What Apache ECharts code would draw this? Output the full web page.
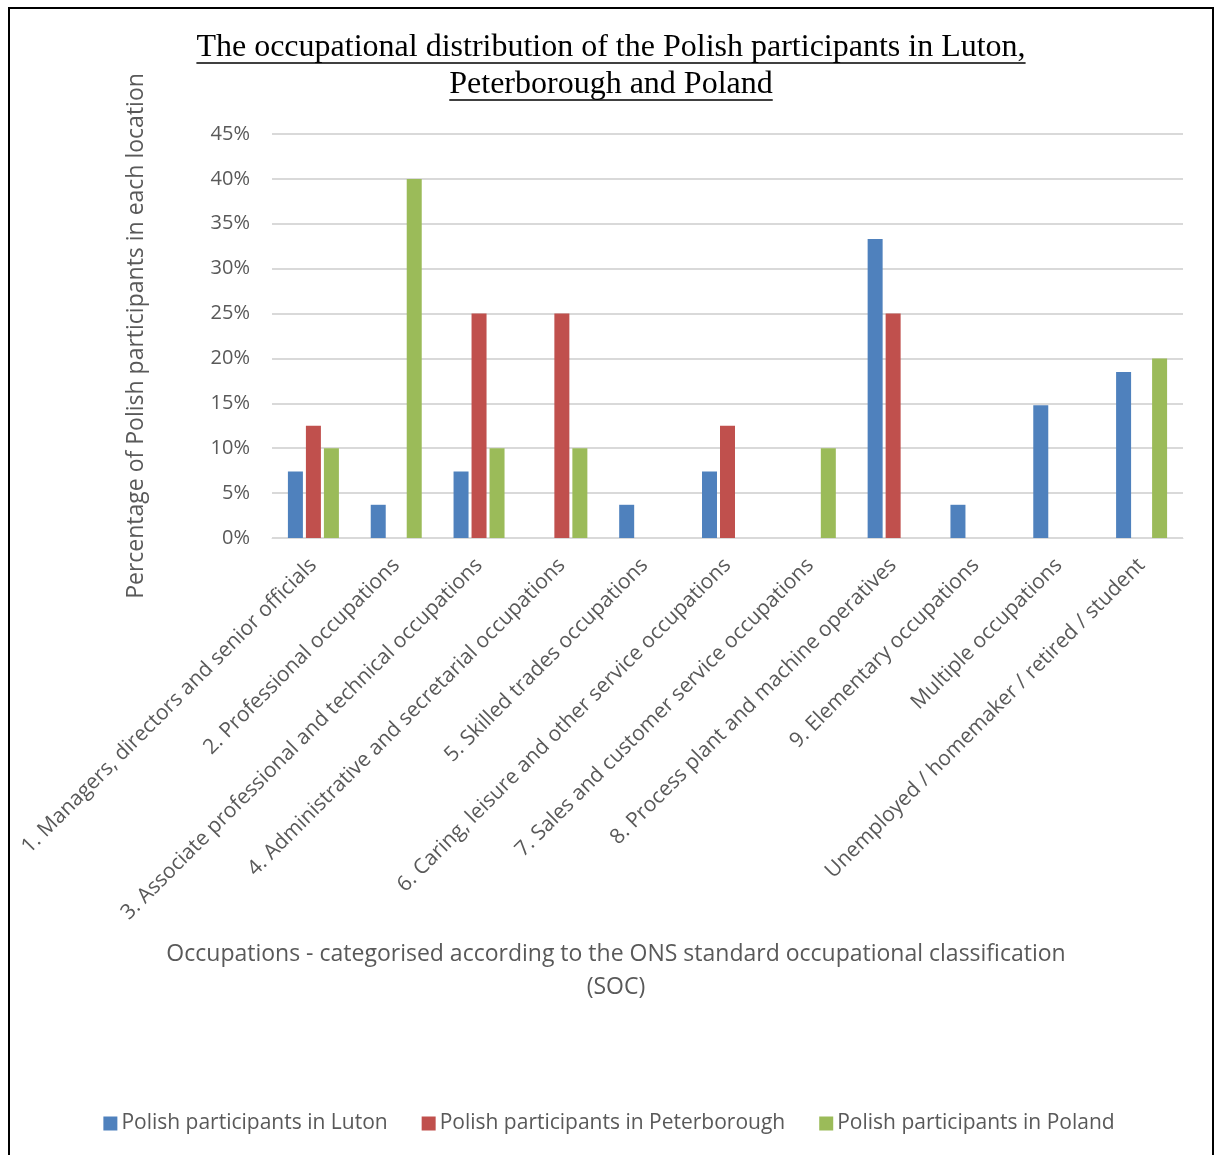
<!DOCTYPE html>
<html>
<head>
<meta charset="utf-8">
<style>
  html, body { margin: 0; padding: 0; background: #ffffff; }
  #chart { width: 1218px; height: 1155px; }
</style>
<script src="https://cdn.jsdelivr.net/npm/echarts@6/dist/echarts.min.js"></script>
</head>
<body>
<div id="chart"></div>
<script>
// Occupational categories (SOC major groups plus extra groups)
const categories = [
  '1. Managers, directors and senior officials',
  '2. Professional occupations',
  '3. Associate professional and technical occupations',
  '4. Administrative and secretarial occupations',
  '5. Skilled trades occupations',
  '6. Caring, leisure and other service occupations',
  '7. Sales and customer service occupations',
  '8. Process plant and machine operatives',
  '9. Elementary occupations',
  'Multiple occupations',
  'Unemployed / homemaker / retired / student'
];

// Share of participants per location, in percent
const lutonValues = [7.4, 3.7, 7.4, 0, 3.7, 7.4, 0, 33.3, 3.7, 14.8, 18.5];
const peterboroughValues = [12.5, 0, 25, 25, 0, 12.5, 0, 25, 0, 0, 0];
const polandValues = [10, 40, 10, 10, 0, 0, 10, 0, 0, 0, 20];

const seriesNames = [
  'Polish participants in Luton',
  'Polish participants in Peterborough',
  'Polish participants in Poland'
];

const titleLines = [
  'The occupational distribution of the Polish participants in Luton,',
  'Peterborough and Poland'
];
const xAxisTitleLines = [
  'Occupations - categorised according to the ONS standard occupational classification',
  '(SOC)'
];
const yAxisTitle = 'Percentage of Polish participants in each location';

const colors = ['#4f81bd', '#c0504d', '#9bbb59'];
const sansFont = '"Open Sans", "Noto Sans", sans-serif';
const serifFont = '"Liberation Serif", "DejaVu Serif", serif';
const grey = '#595959';

const titleFontSize = 32;

// measure text so the title underline spans exactly the drawn words
const measureCtx = document.createElement('canvas').getContext('2d');
function textWidth(str, font) {
  measureCtx.font = font;
  return measureCtx.measureText(str).width;
}

const centerX = 611;
const titleY = [48, 85];
const graphics = [];

// outer frame
graphics.push({
  type: 'rect',
  shape: { x: 9, y: 8, width: 1204, height: 1160 },
  style: { fill: 'none', stroke: '#000000', lineWidth: 2 },
  silent: true
});

titleLines.forEach((line, i) => {
  const font = titleFontSize + 'px ' + serifFont;
  const w = textWidth(line, font);
  graphics.push({
    type: 'text',
    x: centerX, y: titleY[i],
    style: {
      text: line, font: font, fill: '#000000',
      textAlign: 'center', textVerticalAlign: 'middle'
    }
  });
  graphics.push({
    type: 'line',
    shape: { x1: centerX - w / 2, y1: titleY[i] + 15, x2: centerX + w / 2, y2: titleY[i] + 15 },
    style: { stroke: '#000000', lineWidth: 1.3 },
    silent: true
  });
});

// x-axis title (two lines, centred on the chart)
graphics.push({
  type: 'text',
  x: 616, y: 971,
  style: {
    text: xAxisTitleLines.join('\n'),
    font: '23px ' + sansFont,
    fill: grey,
    textAlign: 'center',
    textVerticalAlign: 'middle',
    lineHeight: 33
  }
});

const chart = echarts.init(document.getElementById('chart'), null, { renderer: 'canvas' });

const seriesData = [lutonValues, peterboroughValues, polandValues];

chart.setOption({
  backgroundColor: '#ffffff',
  animation: false,
  color: colors,
  grid: { left: 272, right: 35, top: 134, bottom: 617, containLabel: false },
  legend: {
    bottom: 16,
    left: 'center',
    icon: 'rect',
    itemWidth: 14,
    itemHeight: 14,
    itemGap: 34,
    textStyle: { fontFamily: sansFont, fontSize: 21, color: grey, padding: [0, 0, 0, -1] },
    data: seriesNames
  },
  xAxis: {
    type: 'category',
    data: categories,
    axisLine: { show: true, lineStyle: { color: '#d9d9d9', width: 1 } },
    axisTick: { show: false },
    axisLabel: {
      interval: 0,
      rotate: 45,
      margin: 24,
      fontFamily: sansFont,
      fontSize: 21,
      color: grey
    }
  },
  yAxis: {
    type: 'value',
    min: 0,
    max: 45,
    interval: 5,
    name: yAxisTitle,
    nameLocation: 'middle',
    nameGap: 124,
    nameTextStyle: { fontFamily: sansFont, fontSize: 23, color: grey },
    axisLine: { show: false },
    axisTick: { show: false },
    splitLine: { lineStyle: { color: '#d9d9d9', width: 2 } },
    axisLabel: {
      formatter: '{value}%',
      fontFamily: sansFont,
      fontSize: 20,
      color: grey,
      margin: 22
    }
  },
  series: seriesNames.map((name, i) => ({
    name: name,
    type: 'bar',
    data: seriesData[i],
    barWidth: 15,
    barGap: '20%',
    itemStyle: { color: colors[i] }
  })),
  graphic: graphics
});
</script>
</body>
</html>
